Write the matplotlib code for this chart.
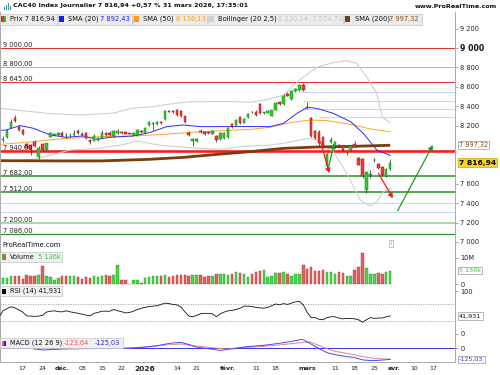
import matplotlib
matplotlib.use("Agg")
import matplotlib.pyplot as plt
import matplotlib.transforms as mtransforms
from matplotlib.patches import Rectangle

W, H = 500, 375

# ---------------- data (index 0 = 10 Nov 2025, daily sessions) ----------------
opens = [8055, 8080, 8180, 8280, 8190, 8150, 8015, 7995, 8030, 7880,
         8010, 7950, 8085, 8105, 8100, 8120, 8105, 8100, 8100, 8148,
         8115, 8122, 8048, 8045, 8050, 8075, 8122, 8128, 8090, 8120,
         8130, 8132, 8120, 8108, 8100, 8140, 8120, 8205, 8215, 8220,
         8235, 8265, 8352, 8348, 8360, 8355, 8295, 8125, 8045, 8045,
         8145, 8135, 8132, 8115, 8090, 8060, 8070, 8080, 8215, 8205,
         8285, 8230, 8285, 8345, 8345, 8425, 8330, 8330, 8300, 8365,
         8440, 8420, 8525, 8470, 8555, 8565, 8620, 8392, 8275, 8140,
         8135, 8085, 7780, 8035, 7990, 7995, 7985, 7930, 7950, 8010,
         7870, 7860, 7540, 7695, 7845, 7800, 7770, 7680, 7750]
highs = [8090, 8160, 8265, 8310, 8205, 8160, 8020, 8010, 8050, 7985,
         8025, 8025, 8130, 8125, 8135, 8140, 8120, 8125, 8150, 8160,
         8130, 8135, 8060, 8110, 8085, 8150, 8135, 8140, 8155, 8160,
         8140, 8145, 8128, 8135, 8160, 8150, 8190, 8250, 8235, 8250,
         8245, 8360, 8365, 8360, 8375, 8365, 8300, 8140, 8070, 8075,
         8160, 8145, 8145, 8150, 8100, 8130, 8130, 8190, 8225, 8265,
         8295, 8275, 8330, 8355, 8360, 8435, 8345, 8360, 8365, 8440,
         8450, 8530, 8545, 8565, 8590, 8630, 8640, 8440, 8285, 8150,
         8150, 8095, 7920, 8085, 8040, 8010, 7995, 7950, 8000, 8045,
         7880, 7870, 7725, 7745, 7870, 7810, 7780, 7760, 7860]
lows = [8030, 8070, 8175, 8235, 8140, 8100, 7960, 7900, 7980, 7860,
        7935, 7940, 8080, 8095, 8095, 8085, 8070, 8085, 8090, 8115,
        8090, 8065, 8015, 8040, 8045, 8070, 8095, 8090, 8085, 8110,
        8115, 8110, 8112, 8100, 8095, 8120, 8115, 8195, 8150, 8210,
        8220, 8260, 8335, 8330, 8300, 8290, 8225, 8090, 7990, 8035,
        8125, 8100, 8115, 8110, 8030, 8055, 8065, 8070, 8175, 8200,
        8215, 8225, 8280, 8325, 8300, 8320, 8315, 8325, 8295, 8360,
        8415, 8415, 8500, 8460, 8550, 8560, 8555, 8370, 8080, 8060,
        7985, 7980, 7770, 8020, 7965, 7975, 7940, 7900, 7940, 7975,
        7790, 7660, 7505, 7655, 7825, 7750, 7680, 7670, 7740]
closes = [8062, 8140, 8240, 8245, 8150, 8110, 7970, 7955, 7990, 7970,
          7950, 8020, 8120, 8110, 8122, 8095, 8100, 8108, 8112, 8120,
          8100, 8075, 8030, 8090, 8075, 8120, 8105, 8100, 8145, 8142,
          8125, 8115, 8116, 8128, 8150, 8132, 8180, 8240, 8225, 8238,
          8228, 8350, 8345, 8342, 8310, 8300, 8240, 8105, 8060, 8065,
          8135, 8110, 8128, 8140, 8050, 8120, 8125, 8180, 8185, 8258,
          8225, 8265, 8320, 8335, 8310, 8330, 8335, 8352, 8360, 8430,
          8425, 8505, 8510, 8558, 8578, 8618, 8565, 8380, 8090, 8070,
          8020, 7990, 7910, 8050, 8030, 7990, 7950, 7938, 7990, 7980,
          7795, 7680, 7720, 7705, 7850, 7762, 7690, 7750, 7816.94]
volumes_m = [2.5, 2.5, 3.1, 3.1, 3.0, 2.1, 3.6, 3.0, 3.1, 3.6,
             6.8, 3.0, 2.6, 1.5, 2.5, 3.1, 3.0, 3.0, 3.0, 2.6,
             2.1, 2.8, 2.5, 3.0, 2.8, 3.1, 3.6, 3.1, 3.6, 7.1,
             1.75, 1.75, 0.25, 1.75, 1.75, 0.6, 2.4, 2.8, 3.0, 3.0,
             3.0, 3.6, 2.8, 3.0, 3.6, 3.6, 3.6, 3.0, 3.6, 3.6,
             3.6, 2.8, 3.0, 3.0, 3.9, 3.9, 3.9, 3.4, 4.0, 4.5,
             4.1, 3.9, 2.9, 3.8, 4.5, 5.0, 5.4, 2.6, 3.3, 4.1,
             4.1, 4.5, 3.8, 3.3, 3.8, 3.8, 7.3, 5.8, 6.5, 5.0,
             5.0, 5.3, 4.5, 4.5, 3.8, 4.5, 4.1, 3.3, 3.3, 5.4,
             6.5, 11.65, 6.0, 3.8, 3.8, 4.1, 3.8, 4.5, 5.136]
# RSI(14), first value belongs to the session before index 0
rsi_values = [40, 54, 59, 63.6, 61, 56, 51, 42, 41.5, 41, 41.5,
              43, 51, 53, 54, 52, 51.5, 54, 51.5, 50, 48,
              46, 44, 42, 48, 50, 53, 53, 53, 57, 54,
              52, 49, 50, 53, 57, 60, 62, 64, 65, 66,
              69, 72, 71, 69, 68, 63, 52, 42, 40, 43,
              47, 48, 48, 47, 40, 47, 51, 54, 55, 57,
              60, 65, 65, 64, 62, 61, 60, 62, 66, 70,
              68, 71, 69, 72, 75, 76, 68, 50, 38, 38,
              34, 33, 38, 40, 40, 37, 35, 36, 36, 35,
              33, 27, 33, 38, 36, 37, 37, 40, 41.931]
# indicator lines: (session index, value)
sma20_pts = [(-1, 8150), (0.8, 8154), (4.3, 8200), (7.7, 8172), (12, 8103), (16, 8079),
             (20.3, 8093), (23.7, 8058), (27, 8079), (33, 8093), (37, 8127), (41.4, 8189),
             (45.7, 8206), (50, 8189), (54, 8189), (58.3, 8190), (62.5, 8190), (67.6, 8189),
             (71, 8223), (74.4, 8326), (77, 8388), (79.4, 8378), (83.6, 8326), (88, 8240),
             (91.2, 8120), (94.6, 7948), (98, 7892.43)]
sma50_pts = [(-1, 8005), (8, 8035), (15, 8065), (25, 8086), (33, 8093), (41, 8110), (50, 8137),
             (62.5, 8161), (67.6, 8182), (72.7, 8230), (77.7, 8258), (82, 8251), (88, 8213),
             (93, 8165), (98, 8136.13)]
boll_up_pts = [(-1, 8380), (3, 8361), (8, 8340), (13, 8320), (20, 8310), (28, 8330), (33, 8380),
               (38, 8395), (42, 8420), (47, 8445), (53, 8447), (58, 8447), (62.5, 8440),
               (67, 8470), (71, 8515), (75, 8670), (79.4, 8800), (83.6, 8849), (87, 8869),
               (89.5, 8842), (92, 8704), (94.6, 8532), (96, 8285), (98, 8230.14)]
boll_lo_pts = [(-1, 7830), (8, 7852), (17, 7948), (24, 7965), (30, 8000), (34, 8041), (40, 7995),
               (44, 7983), (50, 7965), (56, 7955), (60, 7983), (63, 7990), (67.6, 7999),
               (71, 8017), (75, 8051), (77.7, 8068), (79.4, 8051), (83.6, 7931), (87, 7708),
               (90.4, 7433), (92.9, 7371), (94.6, 7415), (96.3, 7518), (98, 7554.73)]
sma200_pts = [(-1, 7838), (12, 7836), (25, 7836), (37, 7852), (46, 7873), (54, 7903),
              (62.5, 7931), (71, 7965), (79.4, 7979), (88, 7985), (98, 7997.32)]
macd_pts = [(-1, 40), (3, 45), (6, 15), (8, -8), (10.2, -19), (12, -15), (14.4, -8), (18, 0),
            (22, -3), (27, 0), (30.5, 0), (35, 8), (39, 30), (42.3, 57), (44.9, 68),
            (46.6, 49), (49.2, 11), (52.6, -8), (55, -23), (58.3, -4), (61.7, 19), (66, 34),
            (70, 57), (73.5, 83), (75.6, 102), (76.9, 76), (79.4, 11), (82, -50), (84.5, -76),
            (87, -95), (88.7, -102), (91.2, -133), (93.7, -140), (96.2, -133), (98, -125.03)]
signal_pts = [(-1, 45), (4, 40), (8, 10), (12.6, -8), (18, -8), (22, -3), (30.5, 0), (37.2, 19),
              (41.4, 38), (44.9, 49), (48.2, 30), (52.6, 8), (56.6, -8), (60, 8), (65, 19),
              (70, 38), (75.2, 64), (77.7, 72), (80.2, 27), (83.6, -30), (87.8, -64),
              (91.2, -95), (94.6, -117), (98, -123.64)]
# horizontal levels: (price, colour, width px, left label)
levels = [(9000, '#e8332e', 1.0, '9 000,00'), (8800, '#f29a9a', 1.0, '8 800,00'),
          (8645, '#e8332e', 1.0, '8 645,00'), (7940, '#ff1a1a', 2.6, '7 940,00'),
          (7682, '#2f8f2f', 1.6, '7 682,00'), (7512, '#2f8f2f', 1.6, '7 512,00'),
          (7200, '#9ad39a', 1.6, '7 200,00'), (7086, '#2f8f2f', 1.2, '7 086,00')]
faint_levels = [(8547, 75), (8457, 76), (8374, 76), (8286, 80), (7400, -1), (7306, -1)]
# drawn trend arrows: (start index, start price, tip index, tip price, colour)
arrows = [(80.4, 8034, 82.6, 7708, '#ff1a1a'), (82.4, 7776, 83.8, 8017, '#1f9a1f'),
          (95.0, 7708, 98.7, 7450, '#ff1a1a'), (99.9, 7323, 108.8, 8000, '#1f9a1f')]
tick_pos = [5, 10, 15, 20, 25, 30, 36, 44, 49, 57, 64, 69, 77, 84, 89, 94, 99, 104, 109]
tick_labels = ['17', '24', 'déc.', '08', '15', '22', '2026', '14', '21', 'févr.',
               '11', '18', 'mars', '11', '18', '25', 'avr.', '10', '17']
price_ticks = [7000, 7200, 7400, 7600, 8200, 8400, 8600, 8800, 9000, 9200]

# ---------------- figure ----------------
plt.rcParams['font.family'] = ['DejaVu Sans']
fig = plt.figure(figsize=(W / 100, H / 100), dpi=100)
fig.patch.set_facecolor('white')

XMIN, XMAX = -0.76, 114.4
GRID = '#a8a8a8'
GREEN, GREEN_E = '#30c830', '#138a13'
RED, RED_E = '#ec3b3b', '#a51414'


def axes_px(x0, y0, x1, y1):
    return fig.add_axes([x0 / W, 1 - y1 / H, (x1 - x0) / W, (y1 - y0) / H])


def rect_px(x0, y0, x1, y1, fc, ec='none', lw=0.6, z=5):
    fig.add_artist(Rectangle((x0 / W, 1 - y1 / H), (x1 - x0) / W, (y1 - y0) / H,
                             transform=fig.transFigure, facecolor=fc, edgecolor=ec,
                             linewidth=lw, zorder=z))


def text_px(x, y, s, **kw):
    kw.setdefault('va', 'center')
    kw.setdefault('zorder', 7)
    return fig.text(x / W, 1 - y / H, s, **kw)


def style_axes(a):
    a.set_xlim(XMIN, XMAX)
    a.set_facecolor('white')
    a.spines['top'].set_visible(False)
    for sp in ('left', 'right', 'bottom'):
        a.spines[sp].set_color(GRID)
        a.spines[sp].set_linewidth(0.7)
    a.set_xticks([])
    a.yaxis.tick_right()
    a.tick_params(axis='y', length=2.2, width=0.5, color='#888888', pad=1.5,
                  labelsize=4.8, labelcolor='#222222')


def xy(pts):
    return [p[0] for p in pts], [p[1] for p in pts]


def rlabel(a, val, s, fc, ec, tc, bold=False, size=4.8):
    tr = mtransforms.blended_transform_factory(a.transAxes, a.transData)
    a.text(1.0 + 4 / 455, val, s, transform=tr, va='center', ha='left', fontsize=size,
           color=tc, fontweight='bold' if bold else 'normal', clip_on=False, zorder=10,
           bbox=dict(boxstyle='square,pad=0.18', fc=fc, ec=ec, lw=0.6))


xs = list(range(len(closes)))
up = [c >= o for o, c in zip(opens, closes)]

# ---- main price panel ----
ax = axes_px(0, 12, 455, 250.7)
style_axes(ax)
ax.set_ylim(6910, 9371)
ax.set_yticks(price_ticks)
ax.set_yticklabels([f"{v:,}".replace(',', ' ') for v in price_ticks])
for t, v in zip(ax.get_yticklabels(), price_ticks):
    if v == 9000:
        t.set_fontweight('bold')
        t.set_fontsize(5.6)
        t.set_color('#111111')

tr_lab = mtransforms.blended_transform_factory(ax.transAxes, ax.transData)
for lv, col, lwpx, lab in levels:
    ax.axhline(lv, color=col, lw=lwpx * 0.72, zorder=1.5)
    ax.text(3 / 455, lv, lab, transform=tr_lab, fontsize=4.8, color='#222222',
            va='bottom', ha='left', zorder=6)
for lv, x0 in faint_levels:
    ax.hlines(lv, x0, XMAX, color='#cad7f5', lw=0.8, zorder=1)

bx, by = xy(boll_up_pts)
ax.plot(bx, by, color='#cfcfcf', lw=0.8, zorder=2)
bx, by = xy(boll_lo_pts)
ax.plot(bx, by, color='#cfcfcf', lw=0.8, zorder=2)
sx, sy = xy(sma50_pts)
ax.plot(sx, sy, color='#ffa424', lw=0.7, zorder=2.2)
sx, sy = xy(sma20_pts)
ax.plot(sx, sy, color='#2b2bff', lw=0.7, zorder=2.3)
sx, sy = xy(sma200_pts)
ax.plot(sx, sy, color='#7b3c12', lw=2.0, zorder=2.4, solid_capstyle='butt')

ax.vlines(xs, lows, highs, color='#333333', lw=0.55, zorder=3)
bottoms = [min(o, c) for o, c in zip(opens, closes)]
heights = [max(abs(c - o), 5) for o, c in zip(opens, closes)]
ax.bar(xs, heights, bottom=bottoms, width=0.62,
       color=[GREEN if u else RED for u in up],
       edgecolor=[GREEN_E if u else RED_E for u in up], linewidth=0.35, zorder=4)

for x0, y0, x1, y1, col in arrows:
    ax.annotate('', xy=(x1, y1), xytext=(x0, y0),
                arrowprops=dict(arrowstyle='-|>', color=col, lw=0.9, mutation_scale=7,
                                shrinkA=0, shrinkB=0), zorder=5)

rlabel(ax, 7997.32, '7 997,32', 'white', '#aaaaaa', '#8a4a1a', size=4.8)
rlabel(ax, 7816.94, '7 816,94', '#ffd21a', '#d9b000', '#000000', bold=True, size=5.4)
ax.text(2 / 455, 0.025, 'ProRealTime.com', transform=ax.transAxes, fontsize=4.9,
        color='#111111', va='center', ha='left')
ax.text(98.2, 0.03, 'i', transform=mtransforms.blended_transform_factory(ax.transData, ax.transAxes),
        fontsize=4, color='#888888', ha='center', va='center',
        bbox=dict(boxstyle='square,pad=0.2', fc='white', ec='#aaaaaa', lw=0.5))

# ---- volume panel ----
av = axes_px(0, 250.7, 455, 285)
style_axes(av)
av.set_ylim(-0.26, 12.63)
av.set_yticks([0, 10])
av.set_yticklabels(['0', '10M'])
av.bar(xs, volumes_m, width=0.62, color=['#4fd34f' if u else '#e06262' for u in up],
       edgecolor=['#1e9e1e' if u else '#b43030' for u in up], linewidth=0.3, zorder=3)
rlabel(av, 5.136, '5 136k', 'white', '#aaaaaa', '#3cc43c', size=4.6)

# ---- RSI panel ----
ar = axes_px(0, 285, 455, 337.3)
style_axes(ar)
ar.set_ylim(-8.35, 114.7)
ar.set_yticks([0, 100])
ar.set_yticklabels(['0', '100'])
ar.axhline(70, color='#a0a0a0', lw=0.6, ls=(0, (1.5, 1.5)), zorder=1)
ar.axhline(30, color='#a0a0a0', lw=0.6, ls=(0, (1.5, 1.5)), zorder=1)
ar.plot(range(-1, len(rsi_values) - 1), rsi_values, color='#111111', lw=0.6, zorder=3)
rlabel(ar, 41.931, '41,931', 'white', '#aaaaaa', '#111111', size=4.6)

# ---- MACD panel ----
am = axes_px(0, 337.3, 455, 361.7)
style_axes(am)
am.set_ylim(-152, 125)
am.set_yticks([0])
am.set_yticklabels(['0'])
am.axhline(0, color='#3535e8', lw=0.7, zorder=1)
mx, my = xy(signal_pts)
am.plot(mx, my, color='#f08080', lw=0.7, zorder=2)
mx, my = xy(macd_pts)
am.plot(mx, my, color='#4848ff', lw=0.7, zorder=3)
rlabel(am, -125.03, '-125,03', 'white', '#aaaaaa', '#3333ee', size=4.6)
am.set_xticks(tick_pos)
am.set_xticklabels(tick_labels)
am.tick_params(axis='x', length=0, pad=3.2, labelsize=4.5, labelcolor='#222222')
for t, s in zip(am.get_xticklabels(), tick_labels):
    if s in ('déc.', 'févr.', 'mars', 'avr.'):
        t.set_fontweight('bold')
    if s == '2026':
        t.set_fontweight('bold')
        t.set_fontsize(5.4)

# ---------------- header & legends ----------------
for k, (hx, hh) in enumerate([(3.5, 3), (5.5, 5), (7.5, 7), (9.5, 4)]):
    rect_px(hx, 10 - hh, hx + 1.2, 10, '#3a78d0' if k != 2 else '#35b04a', z=6)
text_px(13, 6, 'CAC40 Index Journalier 7 816,94 +0,57 % 31 mars 2026, 17:35:01',
        fontsize=4.55, fontweight='bold', color='#111111')
text_px(497, 6, 'www.ProRealTime.com', fontsize=4.6, fontweight='bold', color='#111111', ha='right')

BOX_FC, BOX_EC = '#ececec', '#c4c4c4'
legend_boxes = [(0, 57), (57.5, 132), (133, 207), (208, 343), (344, 422)]
for x0, x1 in legend_boxes:
    rect_px(x0, 13.5, x1, 24.5, BOX_FC, BOX_EC, lw=0.5)
rect_px(1, 16, 3.5, 22, '#e03030', z=6)
rect_px(3.5, 16, 6, 22, '#30c030', z=6)
rect_px(59, 16, 64, 22, '#1a1aff', z=6)
rect_px(134, 16, 139, 22, '#ff9a1a', z=6)
rect_px(209, 16, 214, 22, '#d0d0d0', z=6)
rect_px(345, 16, 350, 22, '#7b3c12', z=6)
LS = 4.9
text_px(10, 19, 'Prix 7 816,94', fontsize=LS, color='#111111')
text_px(68, 19, 'SMA (20)', fontsize=LS, color='#111111')
text_px(100.5, 19, '7 892,43', fontsize=LS, color='#2020ee')
text_px(143, 19, 'SMA (50)', fontsize=LS, color='#111111')
text_px(175.5, 19, '8 136,13', fontsize=LS, color='#ff9a1a')
text_px(218, 19, 'Bollinger (20 2,5)', fontsize=LS, color='#111111')
text_px(277.5, 19, '8 230,14  7 554,73', fontsize=LS, color='#c8c8c8')
text_px(355, 19, 'SMA (200)', fontsize=LS, color='#111111')
text_px(389, 19, '7 997,32', fontsize=LS, color='#8a4a1a')

# sub-panel legends
rect_px(0, 251.5, 62, 261.5, '#f0f0f0', BOX_EC, lw=0.5)
rect_px(1.5, 254, 3.7, 259.5, '#30c030', z=6)
rect_px(3.7, 254, 6, 259.5, '#e05050', z=6)
text_px(10, 256.7, 'Volume', fontsize=4.8, color='#111111')
text_px(37.5, 256.7, '5 136k', fontsize=4.8, color='#44c444')

rect_px(0, 286, 62, 296, '#f0f0f0', BOX_EC, lw=0.5)
rect_px(1.5, 288.5, 6, 294, '#000000', z=6)
text_px(10, 291.2, 'RSI (14) 41,931', fontsize=4.8, color='#111111')

rect_px(0, 338, 123, 348, '#f0f0f0', BOX_EC, lw=0.5)
rect_px(1.5, 340.5, 3.7, 346, '#f06060', z=6)
rect_px(3.7, 340.5, 6, 346, '#2020e0', z=6)
text_px(10, 343.2, 'MACD (12 26 9)', fontsize=4.8, color='#111111')
text_px(64, 343.2, '-123,64', fontsize=4.8, color='#f05050')
text_px(95, 343.2, '-125,03', fontsize=4.8, color='#2a2ae0')

fig.savefig('out.png', dpi=100, facecolor='white')
